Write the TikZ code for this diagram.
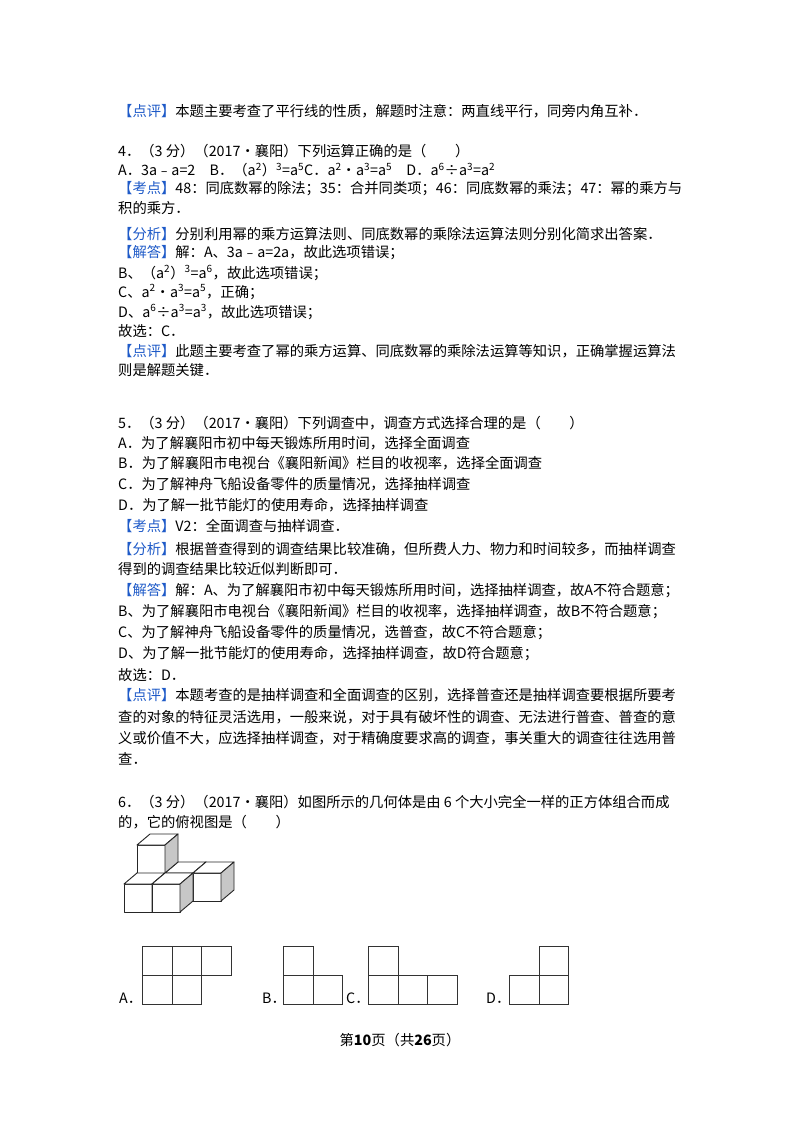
\documentclass[tikz,border=0pt]{standalone}
\usepackage{fontspec}
\setmainfont{Noto Sans CJK SC}
\definecolor{kblue}{RGB}{30,90,200}
\newcommand{\B}[1]{\textcolor{kblue}{#1}}
\newcommand{\su}[1]{\textsuperscript{#1}}
\begin{document}
\begin{tikzpicture}[x=1pt,y=-1pt,
  ln/.style={anchor=west,inner sep=0pt,font=\fontsize{14.3}{16}\selectfont},
  grid/.style={draw=black!80,line width=0.9pt},
  cube/.style={draw=black!85,line width=0.9pt,line join=round}]
\useasboundingbox (0,0) rectangle (800,1132);
\fill[white] (0,0) rectangle (800,1132);
\node[ln] (l1) at (118,111) {\B{【点评】}本题主要考查了平行线的性质，解题时注意：两直线平行，同旁内角互补．};
\node[ln] (l2) at (118,151) {4．（3 分）（2017•襄阳）下列运算正确的是（　　）};
\node[ln] (l3) at (118,170) {A．3a﹣a=2　B．（a\su{2}）\su{3}=a\su{5}C．a\su{2}•a\su{3}=a\su{5}　D．a\su{6}÷a\su{3}=a\su{2}};
\node[ln] (l4) at (118,189) {\B{【考点】}48：同底数幂的除法；35：合并同类项；46：同底数幂的乘法；47：幂的乘方与};
\node[ln] (l5) at (118,208) {积的乘方．};
\node[ln] (l6) at (118,234) {\B{【分析】}分别利用幂的乘方运算法则、同底数幂的乘除法运算法则分别化简求出答案．};
\node[ln] (l7) at (118,253) {\B{【解答】}解：A、3a﹣a=2a，故此选项错误；};
\node[ln] (l8) at (118,273) {B、（a\su{2}）\su{3}=a\su{6}，故此选项错误；};
\node[ln] (l9) at (118,292) {C、a\su{2}•a\su{3}=a\su{5}，正确；};
\node[ln] (l10) at (118,312) {D、a\su{6}÷a\su{3}=a\su{3}，故此选项错误；};
\node[ln] (l11) at (118,331) {故选：C．};
\node[ln] (l12) at (118,351) {\B{【点评】}此题主要考查了幂的乘方运算、同底数幂的乘除法运算等知识，正确掌握运算法};
\node[ln] (l13) at (118,370) {则是解题关键．};
\node[ln] (l14) at (118,423) {5．（3 分）（2017•襄阳）下列调查中，调查方式选择合理的是（　　）};
\node[ln] (l15) at (118,443) {A．为了解襄阳市初中每天锻炼所用时间，选择全面调查};
\node[ln] (l16) at (118,463) {B．为了解襄阳市电视台《襄阳新闻》栏目的收视率，选择全面调查};
\node[ln] (l17) at (118,484) {C．为了解神舟飞船设备零件的质量情况，选择抽样调查};
\node[ln] (l18) at (118,505) {D．为了解一批节能灯的使用寿命，选择抽样调查};
\node[ln] (l19) at (118,526) {\B{【考点】}V2：全面调查与抽样调查．};
\node[ln] (l20) at (118,549) {\B{【分析】}根据普查得到的调查结果比较准确，但所费人力、物力和时间较多，而抽样调查};
\node[ln] (l21) at (118,569) {得到的调查结果比较近似判断即可．};
\node[ln] (l22) at (118,591) {\B{【解答】}解：A、为了解襄阳市初中每天锻炼所用时间，选择抽样调查，故A不符合题意；};
\node[ln] (l23) at (118,612) {B、为了解襄阳市电视台《襄阳新闻》栏目的收视率，选择抽样调查，故B不符合题意；};
\node[ln] (l24) at (118,633) {C、为了解神舟飞船设备零件的质量情况，选普查，故C不符合题意；};
\node[ln] (l25) at (118,654) {D、为了解一批节能灯的使用寿命，选择抽样调查，故D符合题意；};
\node[ln] (l26) at (118,675) {故选：D．};
\node[ln] (l27) at (118,695) {\B{【点评】}本题考查的是抽样调查和全面调查的区别，选择普查还是抽样调查要根据所要考};
\node[ln] (l28) at (118,717) {查的对象的特征灵活选用，一般来说，对于具有破坏性的调查、无法进行普查、普查的意};
\node[ln] (l29) at (118,738) {义或价值不大，应选择抽样调查，对于精确度要求高的调查，事关重大的调查往往选用普};
\node[ln] (l30) at (118,759) {查．};
\node[ln] (l31) at (118,802) {6．（3 分）（2017•襄阳）如图所示的几何体是由 6 个大小完全一样的正方体组合而成};
\node[ln] (l32) at (118,822) {的，它的俯视图是（　　）};
% cubes
\newcommand{\mycube}[2]{%
 \filldraw[cube,fill=white] (#1,#2) rectangle ++(28,-28);
 \filldraw[cube,fill=white] (#1,#2-28) -- ++(13,-11) -- ++(28,0) -- ++(-13,11) -- cycle;
 \filldraw[cube,fill=black!22] (#1+28,#2) -- ++(13,-11) -- ++(0,-28) -- ++(-13,11) -- cycle;}
\mycube{137}{901}\mycube{165}{901}\mycube{193}{901}\mycube{137}{873}
\mycube{124}{912}\mycube{152}{912}
% options
\node[ln] (oa) at (119,998) {A．};
\draw[grid] (142,946) rectangle (231,975) (142,975) rectangle (201,1004) (172,946)--(172,1004) (201,946)--(201,975);
\node[ln] (ob) at (262,998) {B．};
\draw[grid] (283,946) rectangle (313,1004) (283,975) rectangle (342,1004);
\node[ln] (oc) at (346,998) {C．};
\draw[grid] (368,946) rectangle (398,1004) (368,975) rectangle (457,1004) (427,975)--(427,1004);
\node[ln] (od) at (486,998) {D．};
\draw[grid] (539,946) rectangle (568,1004) (509,975) rectangle (568,1004);
\node[ln,anchor=center] (ft) at (400,1040) {第\textbf{10}页（共\textbf{26}页）};
\end{tikzpicture}
\end{document}
